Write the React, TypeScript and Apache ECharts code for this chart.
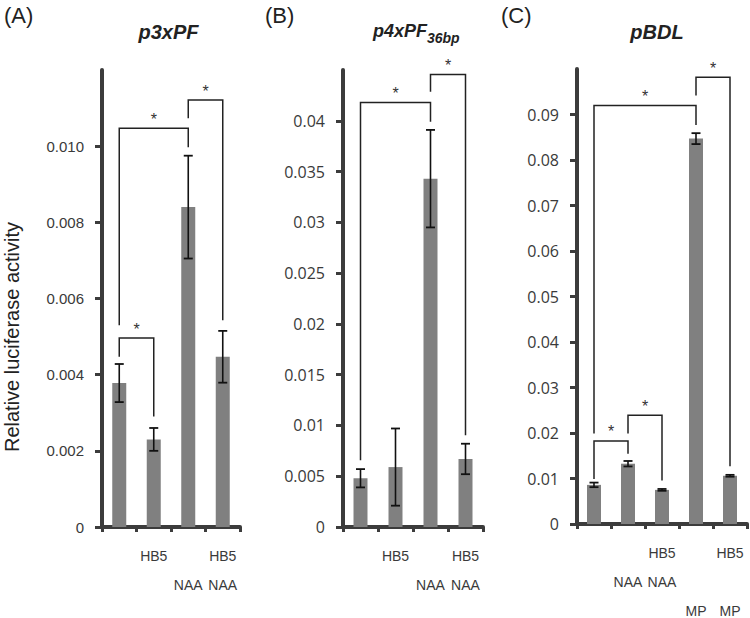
import React, { useEffect, useRef } from "react";
import * as echarts from "echarts";

// ---------- data ----------
const catsA = ["", "HB5", "\nNAA", "HB5\nNAA"];
const meanA = [0.00378, 0.0023, 0.0084, 0.00447];
const errA = [0.0005, 0.0003, 0.00135, 0.00068];
const ticksA = [0, 0.002, 0.004, 0.006, 0.008, 0.01];
// bracket: [fromIdx, toIdx, leftLegBottom, top, rightLegBottom]
const bracketsA = [
  [0, 1, 0.00447, 0.00496, 0.0029],
  [0, 2, 0.0053, 0.01047, 0.00997],
  [2, 3, 0.01073, 0.01121, 0.00543],
];

const catsB = ["", "HB5", "\nNAA", "HB5\nNAA"];
const meanB = [0.0048, 0.0059, 0.0343, 0.0067];
const errB = [0.0009, 0.0038, 0.0048, 0.0015];
const ticksB = [0, 0.005, 0.01, 0.015, 0.02, 0.025, 0.03, 0.035, 0.04];
const bracketsB = [
  [0, 2, 0.00658, 0.0418, 0.0399],
  [2, 3, 0.04287, 0.04455, 0.00904],
];

const catsC = ["", "\nNAA", "HB5\nNAA", "\n\nMP", "HB5\n\nMP"];
const meanC = [0.0086, 0.01325, 0.0075, 0.0847, 0.0106];
const errC = [0.0005, 0.0006, 0.0002, 0.0012, 0.0002];
const ticksC = [0, 0.01, 0.02, 0.03, 0.04, 0.05, 0.06, 0.07, 0.08, 0.09];
const bracketsC = [
  [0, 3, 0.0199, 0.092, 0.0877],
  [3, 4, 0.0942, 0.0982, 0.0127],
  [0, 1, 0.0099, 0.01826, 0.01545],
  [1, 2, 0.0199, 0.0239, 0.00956],
];

const FONT = "'Liberation Sans', Arial, Helvetica, sans-serif";
const FONT_BC = "'Open Sans', 'Liberation Sans', Arial, sans-serif";
const AXIS_COLOR = "#3c3c3c";
const LABEL_COLOR = "#3a3a3a";

const renderErr = (params: any, api: any) => {
  const i = api.value(0);
  const lo = api.coord([i, api.value(1)]);
  const hi = api.coord([i, api.value(2)]);
  const hw = 4.5;
  const st = { stroke: "#111", lineWidth: 1.6 };
  return {
    type: "group",
    children: [
      { type: "line", shape: { x1: lo[0], y1: lo[1], x2: hi[0], y2: hi[1] }, style: st },
      { type: "line", shape: { x1: lo[0] - hw, y1: lo[1], x2: lo[0] + hw, y2: lo[1] }, style: { ...st, lineWidth: 1.8 } },
      { type: "line", shape: { x1: hi[0] - hw, y1: hi[1], x2: hi[0] + hw, y2: hi[1] }, style: { ...st, lineWidth: 1.8 } },
    ],
  };
};

const renderBracket = (params: any, api: any) => {
  const i = api.value(0);
  const j = api.value(1);
  const p1 = api.coord([i, api.value(2)]);
  const p2 = api.coord([i, api.value(3)]);
  const p3 = api.coord([j, api.value(3)]);
  const p4 = api.coord([j, api.value(4)]);
  return {
    type: "group",
    children: [
      {
        type: "polyline",
        shape: { points: [p1, p2, p3, p4] },
        style: { stroke: "#222", lineWidth: 1.5, fill: null },
      },
      {
        type: "text",
        x: (p2[0] + p3[0]) / 2,
        y: p2[1] - 9,
        style: {
          text: "*",
          fontSize: 16,
          fontFamily: FONT,
          fill: "#333",
          align: "center",
          verticalAlign: "middle",
        },
      },
    ],
  };
};

function yAxisCfg(idx: number, max: number, interval: number, ticks: number[], fmt: (v: number) => string, font: string, size: number) {
  return {
    type: "value",
    gridIndex: idx,
    min: 0,
    max,
    interval,
    splitLine: { show: false },
    axisLine: { show: true, lineStyle: { color: AXIS_COLOR, width: 4 } },
    axisTick: { show: true, inside: false, length: 7, customValues: ticks, lineStyle: { color: AXIS_COLOR, width: 3 } },
    axisLabel: {
      customValues: ticks,
      margin: 18,
      fontSize: size,
      color: LABEL_COLOR,
      fontFamily: font,
      formatter: fmt,
    },
  };
}

function xAxisCfg(idx: number, cats: string[]) {
  return {
    type: "category",
    gridIndex: idx,
    data: cats,
    axisLine: { show: true, onZero: false, lineStyle: { color: AXIS_COLOR, width: 4 } },
    axisTick: { show: true, length: 5, lineStyle: { color: AXIS_COLOR, width: 3 } },
    axisLabel: {
      interval: 0,
      margin: 14,
      fontSize: 14,
      lineHeight: 29,
      color: LABEL_COLOR,
      fontFamily: FONT,
      hideOverlap: false,
    },
  };
}

function seriesFor(idx: number, means: number[], errs: number[], brackets: number[][]) {
  return [
    {
      type: "bar",
      xAxisIndex: idx,
      yAxisIndex: idx,
      data: means,
      barWidth: 14,
      itemStyle: { color: "#808080" },
      z: 2,
    },
    {
      type: "custom",
      xAxisIndex: idx,
      yAxisIndex: idx,
      data: means.map((m, i) => [i, m - errs[i], m + errs[i]]),
      encode: { x: 0, y: [1, 2] },
      renderItem: renderErr,
      z: 5,
    },
    {
      type: "custom",
      xAxisIndex: idx,
      yAxisIndex: idx,
      data: brackets,
      encode: { x: 0, y: 3 },
      renderItem: renderBracket,
      z: 6,
    },
  ];
}

export default function App() {
  const ref = useRef<HTMLDivElement>(null);
  useEffect(() => {
    if (!ref.current) return;
    const chart = echarts.init(ref.current, null, { renderer: "svg" });
    const fmtA = (v: number) => (v === 0 ? "0" : v.toFixed(3));
    const fmtBC = (v: number) => String(+v.toFixed(3));
    const option: any = {
      animation: false,
      backgroundColor: "#ffffff",
      textStyle: { fontFamily: FONT },
      grid: [
        { left: 102, top: 70, width: 138, height: 457, outerBoundsMode: "none", containLabel: false },
        { left: 343, top: 70, width: 140, height: 457, outerBoundsMode: "none", containLabel: false },
        { left: 577, top: 69, width: 170, height: 455, outerBoundsMode: "none", containLabel: false },
      ],
      xAxis: [xAxisCfg(0, catsA), xAxisCfg(1, catsB), xAxisCfg(2, catsC)],
      yAxis: [
        yAxisCfg(0, 0.012, 0.002, ticksA, fmtA, FONT, 15),
        yAxisCfg(1, 0.045, 0.005, ticksB, fmtBC, FONT_BC, 16),
        yAxisCfg(2, 0.1, 0.01, ticksC, fmtBC, FONT_BC, 16),
      ],
      series: [
        ...seriesFor(0, meanA, errA, bracketsA),
        ...seriesFor(1, meanB, errB, bracketsB),
        ...seriesFor(2, meanC, errC, bracketsC),
      ],
      graphic: [
        { type: "text", left: 4, top: 4, style: { text: "(A)", fontSize: 22, fontFamily: FONT, fill: "#222" } },
        { type: "text", left: 265, top: 4, style: { text: "(B)", fontSize: 22, fontFamily: FONT, fill: "#222" } },
        { type: "text", left: 501, top: 4, style: { text: "(C)", fontSize: 22, fontFamily: FONT, fill: "#222" } },
        {
          type: "text", x: 168.5, y: 32,
          style: { text: "p3xPF", fontSize: 20, fontWeight: "bold", fontStyle: "italic", fontFamily: FONT, fill: "#222", align: "center", verticalAlign: "middle" },
        },
        {
          type: "text", x: 373, y: 31,
          style: { text: "p4xPF", fontSize: 18, fontWeight: "bold", fontStyle: "italic", fontFamily: FONT, fill: "#222", align: "left", verticalAlign: "middle" },
        },
        {
          type: "text", x: 427, y: 38,
          style: { text: "36bp", fontSize: 14, fontWeight: "bold", fontStyle: "italic", fontFamily: FONT, fill: "#222", align: "left", verticalAlign: "middle" },
        },
        {
          type: "text", x: 657, y: 32,
          style: { text: "pBDL", fontSize: 20, fontWeight: "bold", fontStyle: "italic", fontFamily: FONT, fill: "#222", align: "center", verticalAlign: "middle" },
        },
        {
          type: "text", x: 12, y: 337, rotation: Math.PI / 2,
          style: { text: "Relative luciferase activity", fontSize: 20, fontFamily: FONT, fill: "#222", align: "center", verticalAlign: "middle" },
        },
      ],
    };
    chart.setOption(option);
    return () => chart.dispose();
  }, []);
  return (
    <div
      ref={ref}
      style={{ position: "fixed", left: 0, top: 0, width: 750, height: 618, background: "#fff" }}
    />
  );
}
